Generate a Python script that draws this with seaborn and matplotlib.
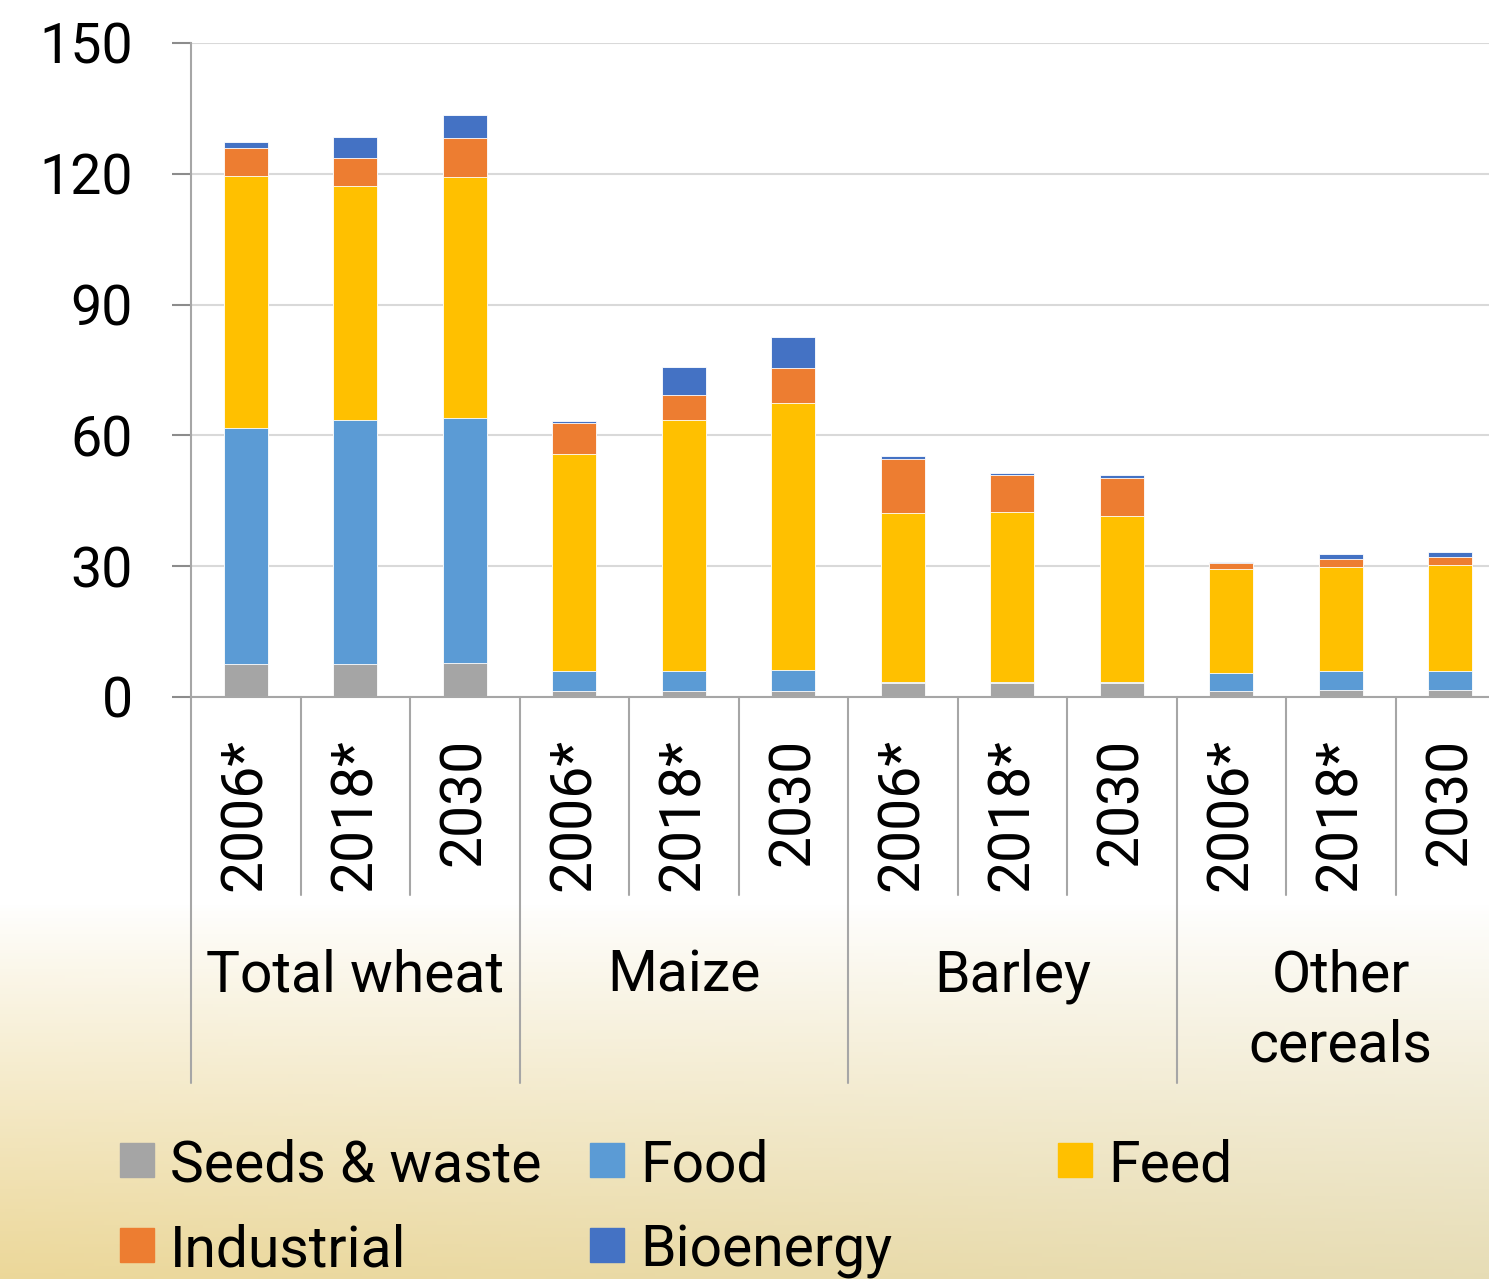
import numpy as np
import pandas as pd
import matplotlib.pyplot as plt
import seaborn as sns
from matplotlib.patches import Rectangle

# data
groups = ['Total wheat', 'Maize', 'Barley', 'Other\ncereals']
years = ['2006*', '2018*', '2030']
seeds = [7.5, 7.6, 7.8, 1.4, 1.4, 1.4, 3.1, 3.1, 3.2, 1.3, 1.6, 1.6]
food = [54.3, 56.0, 56.1, 4.6, 4.6, 4.9, 0.3, 0.3, 0.3, 4.1, 4.4, 4.4]
feed = [57.8, 53.5, 55.3, 49.7, 57.6, 61.1, 38.7, 39.0, 37.9, 24.0, 23.9, 24.3]
industrial = [6.4, 6.6, 9.1, 7.2, 5.7, 8.1, 12.6, 8.5, 8.8, 1.4, 1.7, 1.7]
bioenergy = [1.2, 4.8, 5.3, 0.4, 6.4, 7.0, 0.6, 0.4, 0.7, 0.2, 1.2, 1.3]

series = ['Seeds & waste', 'Food', 'Feed', 'Industrial', 'Bioenergy']
colors = ['#A5A5A5', '#5B9BD5', '#FFC000', '#ED7D31', '#4472C4']

sns.set_style('white')
plt.rcParams['font.family'] = ['Roboto', 'DejaVu Sans']
plt.rcParams['text.color'] = 'black'
plt.rcParams['ytick.labelcolor'] = 'black'

W, H = 1489, 1279
df = pd.DataFrame({'Seeds & waste': seeds, 'Food': food, 'Feed': feed,
                   'Industrial': industrial, 'Bioenergy': bioenergy})
df['bar'] = [f'{g}|{y}' for g in groups for y in years]
cum = df[series].cumsum(axis=1)
cum['bar'] = df['bar']

fig = plt.figure(figsize=(W / 100, H / 100), dpi=100)

# background: white top, wheat-coloured haze at the bottom
bg = fig.add_axes([0, 0, 1, 1])
yy = np.linspace(0, H, 400)[:, None]
xx = np.linspace(0, 1, 300)[None, :]
t = np.clip((yy - 905) / (H - 905), 0, 1) ** 0.9
t = np.where(yy > 912, np.maximum(t, 0.03), t)
left_c = np.array([0.925, 0.845, 0.60])
right_c = np.array([0.905, 0.865, 0.71])
bottom = left_c[None, None, :] * (1 - xx[..., None]) + right_c[None, None, :] * xx[..., None]
img = (1 - t[..., None]) * 1.0 + t[..., None] * bottom
bg.imshow(img, extent=[0, 1, 0, 1], aspect='auto', origin='upper')
bg.set_axis_off()

# plot area runs slightly past the right edge, as in the original
ax = fig.add_axes([191 / W, 1 - 697 / H, 1314 / W, 654 / H])
ax.patch.set_alpha(0)

for name, c in reversed(list(zip(series, colors))):
    sns.barplot(data=cum, x='bar', y=name, color=c, saturation=1, width=0.4,
                errorbar=None, edgecolor='white', linewidth=0.6, ax=ax)

ax.set_xlim(-0.5, 11.5)
ax.set_ylim(0, 150)
ax.set_yticks(range(0, 151, 30))
ax.yaxis.grid(True, color='#d9d9d9', lw=1.5)
ax.set_axisbelow(True)
ax.set_xlabel('')
ax.set_ylabel('')
ax.set_xticks([])
for s in ['top', 'right']:
    ax.spines[s].set_visible(False)
for s in ['left', 'bottom']:
    ax.spines[s].set_color('#a6a6a6')
    ax.spines[s].set_linewidth(1.5)
ax.tick_params(axis='y', left=True, length=14, width=1.5, color='#8c8c8c',
               labelsize=40, pad=28, labelcolor='black')

# category axis: separators, year labels, group labels
tr = ax.get_xaxis_transform()
for i in range(12):
    edge = i - 0.5
    end = -0.590 if i % 3 == 0 else -0.303
    ax.plot([edge, edge], [0, end], transform=tr, color='#a6a6a6', lw=1.5,
            clip_on=False)
    ax.text(i, -0.063, years[i % 3], transform=tr, rotation=90, ha='center',
            va='top', fontsize=41, color='black')
for j, g in enumerate(groups):
    ax.text(3 * j + 1, -0.385, g, transform=tr, ha='center', va='top',
            fontsize=41, linespacing=1.35, color='black')

# legend laid out like the original
cols = [120, 590, 1058, 120, 590]
rows = [1160, 1160, 1160, 1245, 1245]
for name, c, x, y in zip(series, colors, cols, rows):
    fig.patches.append(Rectangle((x / W, 1 - (y + 17) / H), 34 / W, 34 / H,
                                 transform=fig.transFigure, figure=fig,
                                 color=c))
    fig.text((x + 50) / W, 1 - y / H, name, ha='left', va='center_baseline',
             fontsize=41, color='black')

fig.savefig('out.png', dpi=100)
